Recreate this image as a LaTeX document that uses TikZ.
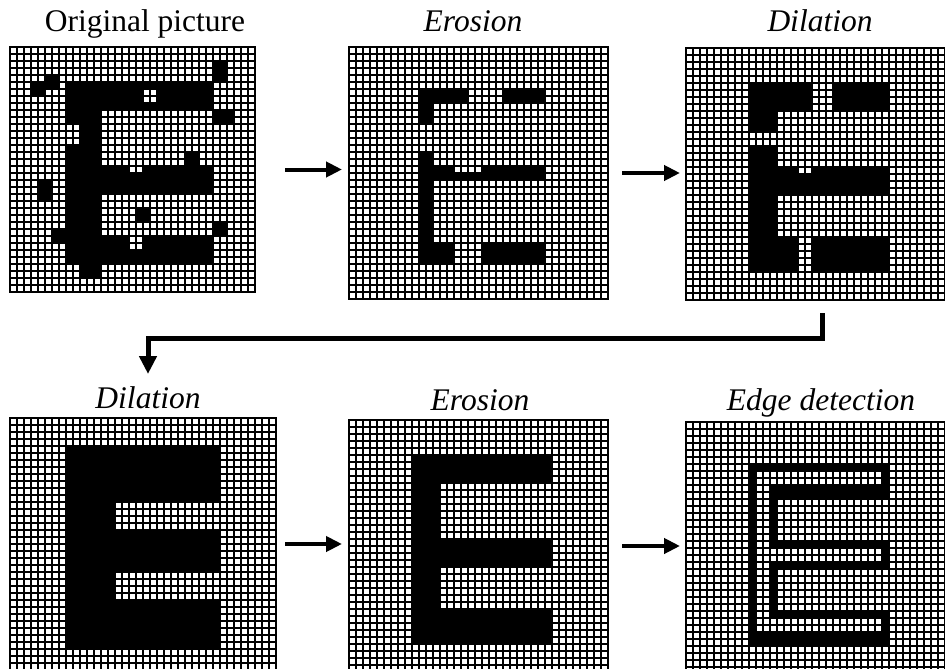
\documentclass[tikz,border=0pt]{standalone}
\usepackage{fontspec}
\setmainfont{Liberation Serif}
\usetikzlibrary{arrows.meta}

\tikzset{
  panelbox/.style={inner sep=0pt, outer sep=0pt, anchor=north west},
  cellline/.style={line width=2pt, draw=black},
  frameline/.style={line width=2.4pt, draw=black},
  caption/.style={font=\fontsize{31.5}{36}\selectfont, anchor=base, inner sep=0pt},
  flow/.style={line width=4pt, -{Triangle[length=16pt,width=15pt]}},
  flowbig/.style={line width=5pt, -{Triangle[length=18pt,width=17pt]}},
}

% A square-celled panel (7pt cells).
% #1 name, #2/#3 top-left corner, #4/#5 nominal width/height,
% #6 black blocks, #7 white blocks, given as col1/row1/col2/row2 on a
% 34 x 34 layout grid and snapped onto the drawn cells.
\newcommand\gridpanel[7]{%
  \pgfmathtruncatemacro\nx{round(#4/7)}%
  \pgfmathtruncatemacro\ny{round(#5/7)}%
  \pgfmathtruncatemacro\nxm{\nx-1}%
  \pgfmathtruncatemacro\nym{\ny-1}%
  \pgfmathtruncatemacro\pw{\nx*7}%
  \pgfmathtruncatemacro\ph{\ny*7}%
  \pgfmathsetmacro\sx{#4/34/7}%
  \pgfmathsetmacro\sy{#5/34/7}%
  \node[panelbox, minimum width=\pw pt, minimum height=\ph pt] (#1) at (#2,#3) {};
  \begin{scope}[shift={(#1.north west)}]
    \fill[white] (0,0) rectangle (\pw,\ph);
    \foreach \ca/\ra/\cb/\rb in {#6}
      {\fill[black] ({round(\ca*\sx)*7},{round(\ra*\sy)*7}) rectangle
                    ({round((\cb+1)*\sx)*7},{round((\rb+1)*\sy)*7});}
    \foreach \ca/\ra/\cb/\rb in {#7}
      {\fill[white] ({round(\ca*\sx)*7},{round(\ra*\sy)*7}) rectangle
                    ({round((\cb+1)*\sx)*7},{round((\rb+1)*\sy)*7});}
    \draw[cellline] \foreach \i in {1,...,\nxm} {(7*\i,0) -- (7*\i,\ph)};
    \draw[cellline] \foreach \i in {1,...,\nym} {(0,7*\i) -- (\pw,7*\i)};
    \draw[frameline] (0,0) rectangle (\pw,\ph);
  \end{scope}}

\begin{document}
\begin{tikzpicture}[x=1pt,y=-1pt]
\useasboundingbox (0,0) rectangle (945,669);
\fill[white] (0,0) rectangle (945,669);
\clip (0,0) rectangle (945,669);

% noisy original letter
\gridpanel{p1}{10}{47}{248}{248}
  {28/2/29/4, 3/5/4/6, 5/4/6/5, 8/5/27/8, 8/5/11/29, 28/9/30/10,
   24/14/25/15, 12/16/27/19, 4/18/5/20, 17/22/18/23, 28/24/29/25,
   6/25/7/26, 12/26/27/29, 10/30/11/31}
  {18/6/19/7, 8/11/9/12, 16/16/17/16, 16/26/17/27}

% first erosion
\gridpanel{p2}{349}{47}{257}{251}
  {9/6/15/7, 9/8/10/9, 20/6/25/7, 9/14/10/28, 11/16/25/17,
   9/27/13/28, 18/27/25/28}
  {14/16/17/16}

% first dilation
\gridpanel{p3}{686}{48}{258}{250}
  {8/5/16/8, 8/9/11/10, 19/5/26/8, 8/13/11/29, 12/16/26/19,
   8/26/14/29, 17/26/26/29}
  {15/16/16/16}

% second dilation
\gridpanel{p4}{10}{418}{267}{252}
  {7/4/26/30}
  {13/11/26/14, 13/21/26/24}

% second erosion
\gridpanel{p5}{349}{420}{260}{250}
  {8/5/26/29}
  {12/9/26/15, 12/20/26/25}

% edge detection
\gridpanel{p6}{686}{422}{258}{250}
  {8/6/26/29}
  {12/10/26/15, 12/20/26/25, 9/7/10/28, 9/7/25/8, 9/17/25/18, 9/27/25/28}

% captions
\node[caption] (t1) at (145,32) {Original picture};
\node[caption] (t2) at (473,32) {\itshape Erosion};
\node[caption] (t3) at (820,32) {\itshape Dilation};
\node[caption] (t4) at (148,408) {\itshape Dilation};
\node[caption] (t5) at (480,410) {\itshape Erosion};
\node[caption] (t6) at (821,410) {\itshape Edge detection};

% processing steps
\draw[flow, shorten <=30pt, shorten >=7pt] (p1.east) -- (p1.east -| p2.west);
\draw[flow, shorten <=14pt, shorten >=6pt] (p2.east) -- (p2.east -| p3.west);
\draw[flow, shorten <=9pt, shorten >=7pt] (p4.east) -- (p4.east -| p5.west);
\draw[flow, shorten <=14pt, shorten >=6pt] (p5.east) -- (p5.east -| p6.west);

\coordinate (turnA) at (822,338);
\coordinate (turnB) at (148,338);
\draw[flowbig, shorten <=13pt, shorten >=44pt]
  (p3.south -| turnA) -- (turnA) -- (turnB) -- (turnB |- p4.north);
\end{tikzpicture}
\end{document}
